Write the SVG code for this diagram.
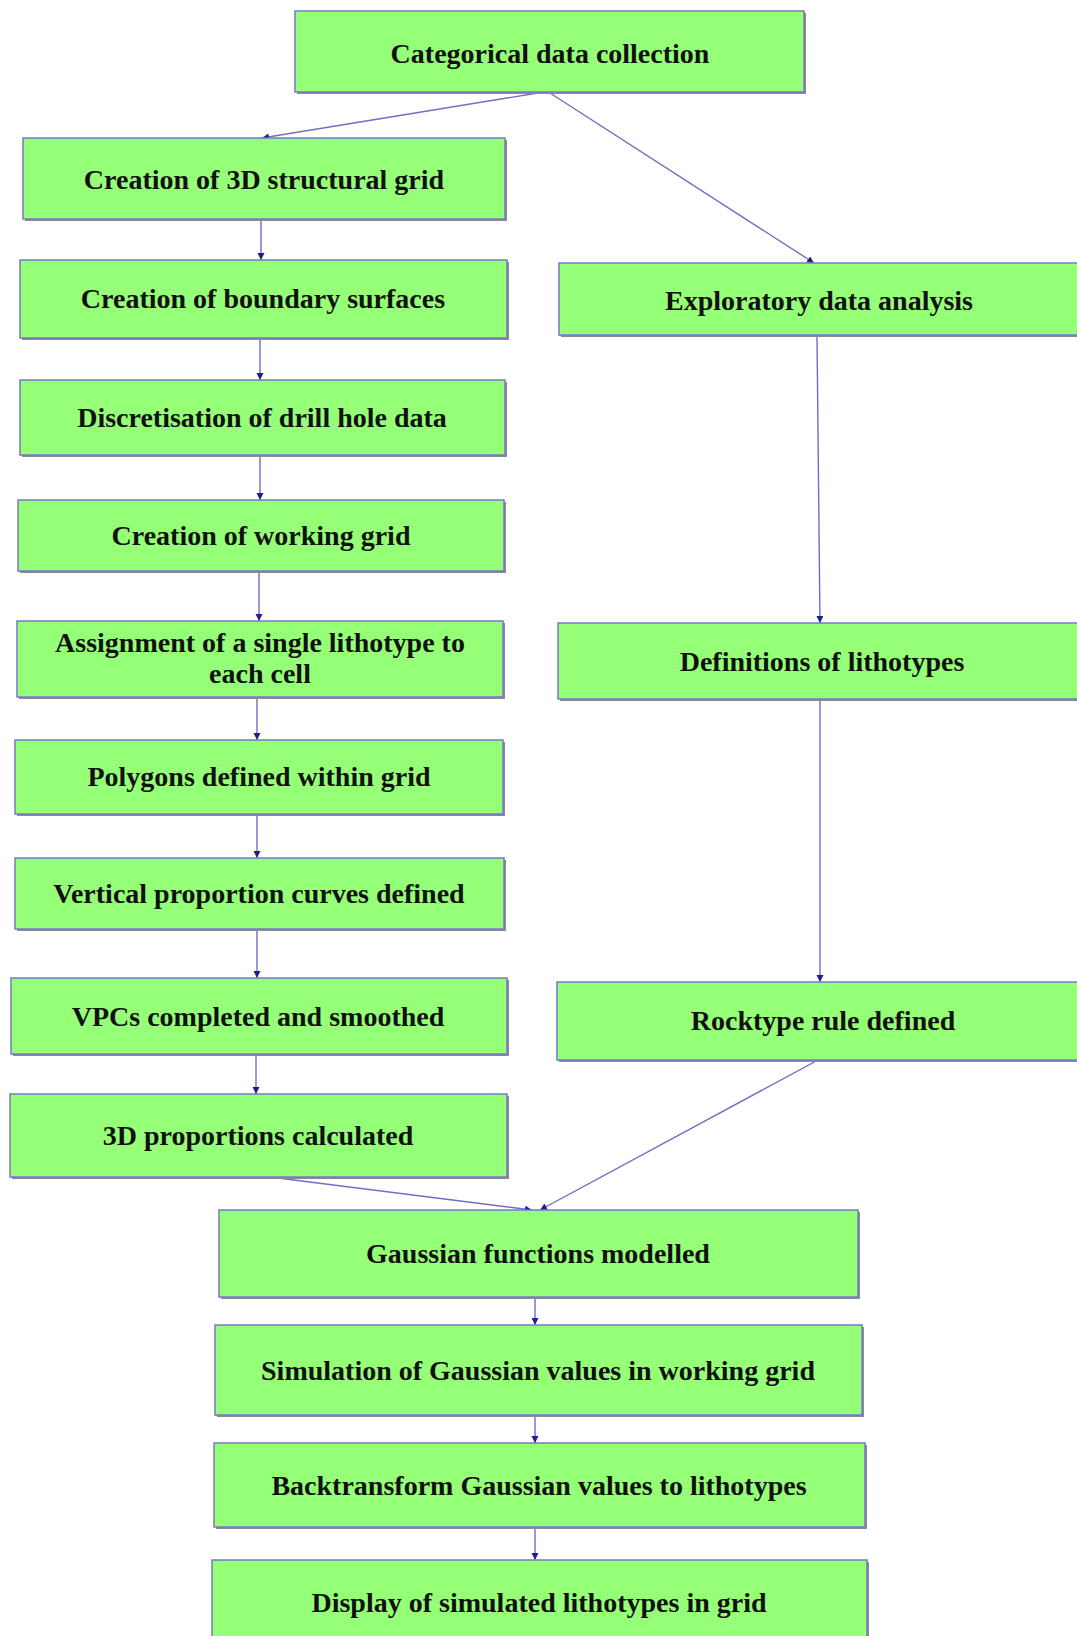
<svg xmlns="http://www.w3.org/2000/svg" width="1077" height="1636" viewBox="0 0 1077 1636">
<style>
.box{fill:#96ff78;stroke:#7878c8;stroke-width:1.5}
.sh{fill:#8a8a9a}
.t{font-family:"Liberation Serif","Times New Roman",serif;font-weight:bold;font-size:28px;fill:#111;text-anchor:middle}
.c{fill:none;stroke:#6e6ec4;stroke-width:1.4}
</style>
<defs>
<marker id="ah" markerUnits="userSpaceOnUse" markerWidth="10" markerHeight="10" refX="7" refY="3.5" orient="auto">
<path d="M0,0 L7,3.5 L0,7 z" fill="#1e1e8c"/>
</marker>
</defs>
<rect width="1077" height="1636" fill="#fff"/>
<g id="connectors">
<path class="c" d="M538,93 L262,138" marker-end="url(#ah)"/>
<path class="c" d="M550,93 L814,263" marker-end="url(#ah)"/>
<path class="c" d="M261,219 L261,260" marker-end="url(#ah)"/>
<path class="c" d="M260,338 L260,380" marker-end="url(#ah)"/>
<path class="c" d="M260,455 L260,500" marker-end="url(#ah)"/>
<path class="c" d="M259,571 L259,621" marker-end="url(#ah)"/>
<path class="c" d="M257,697 L257,740" marker-end="url(#ah)"/>
<path class="c" d="M257,814 L257,858" marker-end="url(#ah)"/>
<path class="c" d="M257,929 L257,978" marker-end="url(#ah)"/>
<path class="c" d="M256,1054 L256,1094" marker-end="url(#ah)"/>
<path class="c" d="M270,1177 L532,1210" marker-end="url(#ah)"/>
<path class="c" d="M818,1060 L540,1210" marker-end="url(#ah)"/>
<path class="c" d="M817,336 L820,623" marker-end="url(#ah)"/>
<path class="c" d="M820,699 L820,982" marker-end="url(#ah)"/>
<path class="c" d="M535,1297 L535,1325" marker-end="url(#ah)"/>
<path class="c" d="M535,1415 L535,1443" marker-end="url(#ah)"/>
<path class="c" d="M535,1527 L535,1560" marker-end="url(#ah)"/>
</g>
<g id="n0"><rect class="sh" x="297" y="13" width="509" height="81"/><rect class="box" x="295" y="11" width="509" height="81"/><text class="t" x="550" y="63">Categorical data collection</text></g>
<g id="n1"><rect class="sh" x="25" y="140" width="482" height="81"/><rect class="box" x="23" y="138" width="482" height="81"/><text class="t" x="264" y="189">Creation of 3D structural grid</text></g>
<g id="n2"><rect class="sh" x="22" y="262" width="487" height="78"/><rect class="box" x="20" y="260" width="487" height="78"/><text class="t" x="263" y="308">Creation of boundary surfaces</text></g>
<g id="n3"><rect class="sh" x="22" y="382" width="485" height="75"/><rect class="box" x="20" y="380" width="485" height="75"/><text class="t" x="262" y="427">Discretisation of drill hole data</text></g>
<g id="n4"><rect class="sh" x="20" y="502" width="486" height="71"/><rect class="box" x="18" y="500" width="486" height="71"/><text class="t" x="261" y="545">Creation of working grid</text></g>
<g id="n5"><rect class="sh" x="19" y="623" width="486" height="76"/><rect class="box" x="17" y="621" width="486" height="76"/><text class="t" x="260" y="652">Assignment of a single lithotype to</text><text class="t" x="260" y="683">each cell</text></g>
<g id="n6"><rect class="sh" x="17" y="742" width="488" height="74"/><rect class="box" x="15" y="740" width="488" height="74"/><text class="t" x="259" y="786">Polygons defined within grid</text></g>
<g id="n7"><rect class="sh" x="17" y="860" width="489" height="71"/><rect class="box" x="15" y="858" width="489" height="71"/><text class="t" x="259" y="903">Vertical proportion curves defined</text></g>
<g id="n8"><rect class="sh" x="13" y="980" width="496" height="76"/><rect class="box" x="11" y="978" width="496" height="76"/><text class="t" x="258" y="1026">VPCs completed and smoothed</text></g>
<g id="n9"><rect class="sh" x="12" y="1096" width="497" height="83"/><rect class="box" x="10" y="1094" width="497" height="83"/><text class="t" x="258" y="1145">3D proportions calculated</text></g>
<g id="n10"><rect class="sh" x="561" y="265" width="530" height="72"/><rect class="box" x="559" y="263" width="530" height="72"/><text class="t" x="819" y="310">Exploratory data analysis</text></g>
<g id="n11"><rect class="sh" x="560" y="625" width="530" height="76"/><rect class="box" x="558" y="623" width="530" height="76"/><text class="t" x="822" y="671">Definitions of lithotypes</text></g>
<g id="n12"><rect class="sh" x="559" y="984" width="530" height="78"/><rect class="box" x="557" y="982" width="530" height="78"/><text class="t" x="823" y="1030">Rocktype rule defined</text></g>
<g id="n13"><rect class="sh" x="221" y="1212" width="639" height="87"/><rect class="box" x="219" y="1210" width="639" height="87"/><text class="t" x="538" y="1263">Gaussian functions modelled</text></g>
<g id="n14"><rect class="sh" x="217" y="1327" width="647" height="90"/><rect class="box" x="215" y="1325" width="647" height="90"/><text class="t" x="538" y="1380">Simulation of Gaussian values in working grid</text></g>
<g id="n15"><rect class="sh" x="216" y="1445" width="651" height="84"/><rect class="box" x="214" y="1443" width="651" height="84"/><text class="t" x="539" y="1495">Backtransform Gaussian values to lithotypes</text></g>
<g id="n16"><rect class="sh" x="214" y="1562" width="655" height="90"/><rect class="box" x="212" y="1560" width="655" height="90"/><text class="t" x="539" y="1612">Display of simulated lithotypes in grid</text></g>
</svg>
